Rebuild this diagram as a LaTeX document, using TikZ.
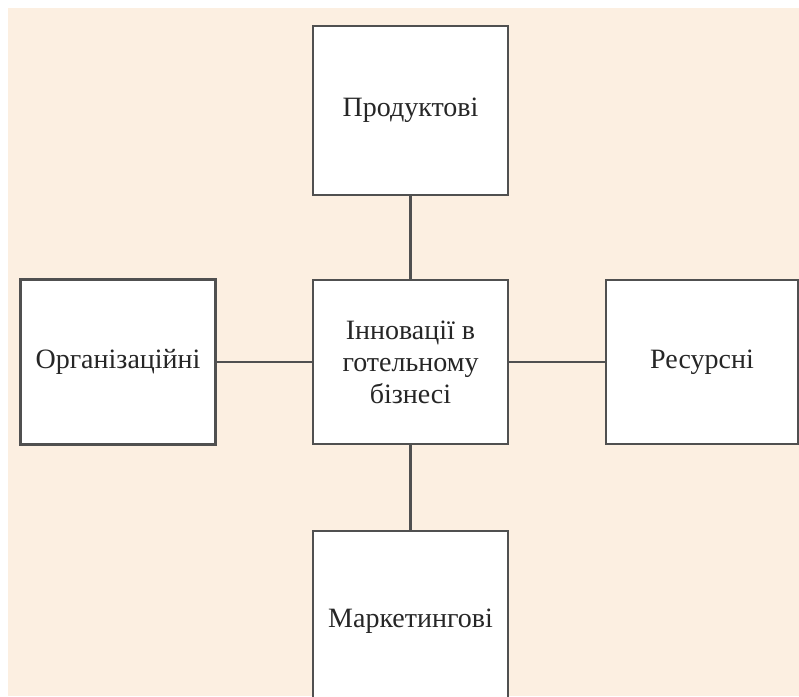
\documentclass[tikz,border=0pt]{standalone}
\usepackage{fontspec}
\setmainfont{Liberation Serif}
\definecolor{bgbeige}{HTML}{FCEFE1}
\definecolor{linegray}{HTML}{505050}
\begin{document}
\begin{tikzpicture}[x=1pt,y=-1pt,
  box/.style={draw=linegray, line width=2.4pt, fill=white, inner sep=0pt,
    align=center, font=\fontsize{28}{32}\selectfont, text=black!85},
  link/.style={draw=linegray, line width=2.6pt}]
\useasboundingbox (0,0) rectangle (799,696);
\clip (0,0) rectangle (799,696);
\fill[white] (0,0) rectangle (799,696);
\fill[bgbeige] (8,8) rectangle (799,696);
\node[box, minimum width=195pt, minimum height=169pt] (prod) at (410.5,110.5) {Продуктові};
\node[box, minimum width=195pt, minimum height=165pt] (org) at (118,362) {Організаційні};
\node[box, minimum width=195pt, minimum height=164pt] (cen) at (410.5,362) {Інновації в\\готельному\\бізнесі};
\node[box, minimum width=192pt, minimum height=164pt] (res) at (702,362) {Ресурсні};
\node[box, minimum width=195pt, minimum height=180pt] (mark) at (410.5,621) {Маркетингові};
\draw[link] (prod.south) -- (cen.north);
\draw[link] (org.east) -- (cen.west);
\draw[link] (cen.east) -- (res.west);
\draw[link] (cen.south) -- (mark.north);
\end{tikzpicture}
\end{document}
